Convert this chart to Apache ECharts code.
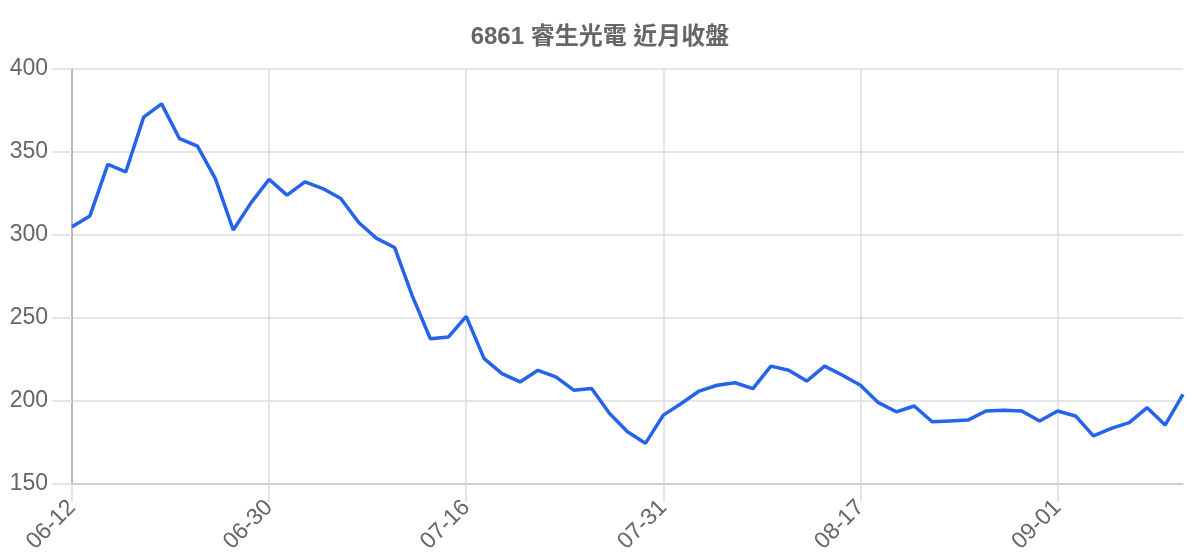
<!DOCTYPE html>
<html>
<head>
<meta charset="utf-8">
<script src="https://cdn.jsdelivr.net/npm/echarts@6/dist/echarts.min.js"></script>
<style>
  html, body { margin: 0; padding: 0; background: #fff; }
  #chart { width: 1200px; height: 560px; }
</style>
</head>
<body>
<div id="chart"></div>
<script>
const titleText = '6861 睿生光電 近月收盤';

const dates = [
  '06-12', '06-13', '06-16', '06-17', '06-18', '06-19', '06-20', '06-23', '06-24', '06-25', '06-27',
  '06-30', '07-01', '07-02', '07-03', '07-04', '07-07', '07-08', '07-09', '07-10', '07-11', '07-14',
  '07-16', '07-17', '07-18', '07-21', '07-22', '07-23', '07-24', '07-25', '07-28', '07-29', '07-30',
  '07-31', '08-01', '08-04', '08-05', '08-06', '08-07', '08-08', '08-11', '08-12', '08-13', '08-14',
  '08-17', '08-18', '08-19', '08-20', '08-21', '08-22', '08-25', '08-26', '08-27', '08-28', '08-29',
  '09-01', '09-02', '09-03', '09-04', '09-05', '09-08', '09-09', '09-10'
];

const closes = [
  305, 311.5, 342.5, 338, 371, 379, 358, 353.5, 334, 303, 319.5,
  333.5, 324, 332, 328, 322, 307.5, 298, 292.5, 263, 237.5, 238.5,
  251, 225.5, 216.5, 211.5, 218.5, 214.5, 206.5, 207.5, 192.5, 181.5, 174.5,
  191.5, 198.5, 206, 209.5, 211, 207.5, 221, 218.5, 212, 221, 215.5,
  209.5, 199, 193.5, 197, 187.5, 188, 188.5, 194, 194.5, 194, 188,
  194, 191, 179, 183.5, 187, 196, 185.5, 204
];

const yTicks = [150, 200, 250, 300, 350, 400];

const font = "'Liberation Sans', 'Noto Sans CJK TC', sans-serif";

const chart = echarts.init(document.getElementById('chart'));
chart.setOption({
  animation: false,
  title: {
    text: titleText,
    left: 'center',
    top: 20,
    textStyle: { fontFamily: font, fontSize: 24, fontWeight: 'bold', color: '#666' }
  },
  grid: { left: 72, right: 17, top: 69, bottom: 76, containLabel: false },
  xAxis: {
    type: 'category',
    data: dates,
    boundaryGap: false,
    axisLine: { lineStyle: { color: '#c8c8c8', width: 1.5 } },
    axisTick: { show: true, length: 18, interval: 10, lineStyle: { color: '#ddd', width: 1.5 } },
    axisLabel: {
      interval: 10,
      rotate: 45,
      margin: 20,
      fontFamily: font,
      fontSize: 23,
      color: '#666'
    },
    splitLine: { show: true, interval: 10, lineStyle: { color: '#ddd', width: 1.5 } }
  },
  yAxis: {
    type: 'value',
    min: yTicks[0],
    max: yTicks[yTicks.length - 1],
    interval: 50,
    axisLine: { show: true, lineStyle: { color: '#aaa', width: 1.5 } },
    axisTick: { show: true, length: 20, lineStyle: { color: '#ddd', width: 1.5 } },
    axisLabel: { margin: 24, fontFamily: font, fontSize: 23, color: '#666' },
    splitLine: { show: true, lineStyle: { color: '#ddd', width: 1.5 } }
  },
  series: [{
    type: 'line',
    data: closes,
    showSymbol: false,
    lineStyle: { color: '#2563eb', width: 3.5 },
    itemStyle: { color: '#2563eb' }
  }]
});
</script>
</body>
</html>
